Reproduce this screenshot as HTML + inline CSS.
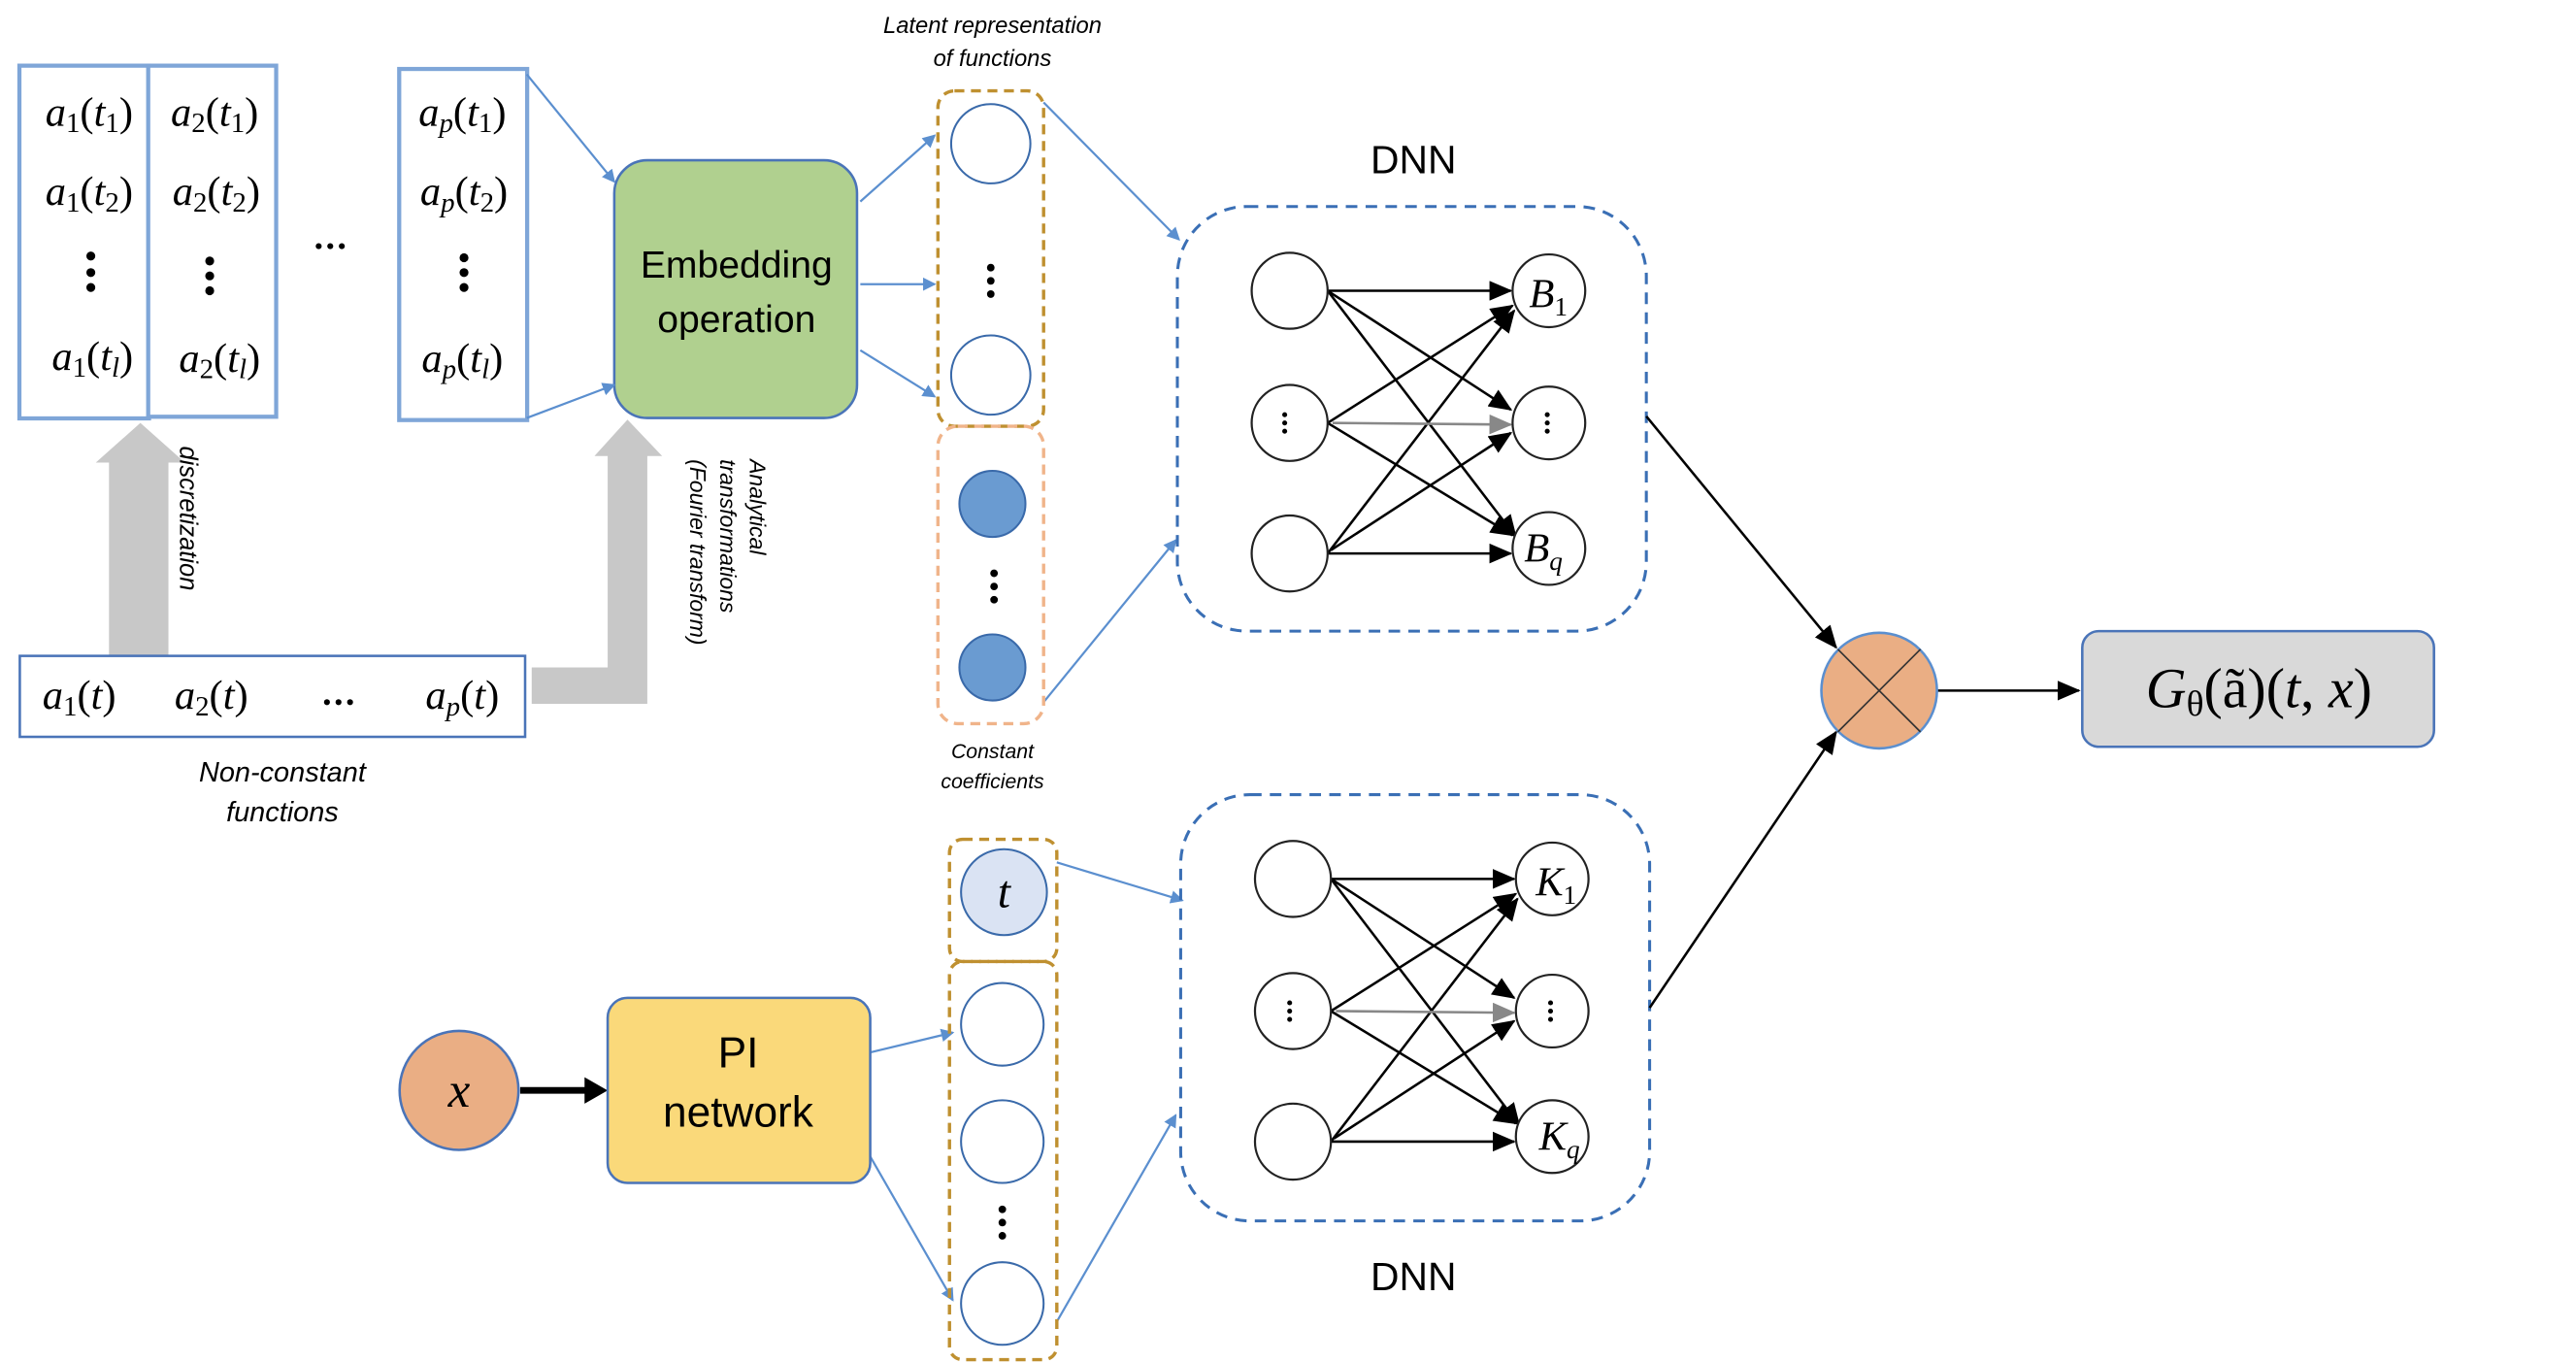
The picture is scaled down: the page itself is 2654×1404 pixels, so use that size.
<!DOCTYPE html>
<html><head><meta charset="utf-8"><style>html,body{margin:0;padding:0;background:#fff}svg{display:block}</style></head>
<body>
<svg width="2654" height="1404" viewBox="0 0 1560 825" preserveAspectRatio="none" xmlns="http://www.w3.org/2000/svg" font-family="Liberation Sans, sans-serif">
<defs>
<marker id="ab" markerWidth="8" markerHeight="8" refX="7" refY="4" orient="auto" markerUnits="userSpaceOnUse"><path d="M0,0 L8,4 L0,8z" fill="#5b8fcf"/></marker>
<marker id="ak" markerWidth="14" markerHeight="12" refX="13" refY="6" orient="auto" markerUnits="userSpaceOnUse"><path d="M0,0 L14,6 L0,12z" fill="#000"/></marker>
<marker id="ag" markerWidth="14" markerHeight="12" refX="13" refY="6" orient="auto" markerUnits="userSpaceOnUse"><path d="M0,0 L14,6 L0,12z" fill="#888"/></marker>
</defs>
<!-- gray arrows -->
<path d="M66,397 L66,280 L58,280 L85,256 L112,280 L102,280 L102,397 Z" fill="#c8c8c8"/>
<path d="M322,404 L368,404 L368,276 L360,276 L380,254 L401,276 L392,276 L392,426 L322,426 Z" fill="#c8c8c8"/>
<g font-family="Liberation Serif, serif" font-style="italic" font-size="25" text-anchor="middle" fill="#000">
<rect x="12" y="40" width="78" height="213" fill="none" stroke="#7fa6d8" stroke-width="3"/><rect x="13.5" y="41.5" width="75" height="210" fill="none" stroke="#fff" stroke-width="1"/>
<rect x="90" y="40" width="77" height="212" fill="none" stroke="#7fa6d8" stroke-width="3"/><rect x="91.5" y="41.5" width="74" height="209" fill="none" stroke="#fff" stroke-width="1"/>
<rect x="242" y="42" width="77" height="212" fill="none" stroke="#7fa6d8" stroke-width="3"/><rect x="243.5" y="43.5" width="74" height="209" fill="none" stroke="#fff" stroke-width="1"/>
<text x="54" y="76">a<tspan font-style="normal" font-size="17" dy="4">1</tspan><tspan dy="-4" font-style="normal">(</tspan>t<tspan font-style="normal" font-size="17" dy="4">1</tspan><tspan dy="-4" font-style="normal">)</tspan></text>
<text x="54" y="124">a<tspan font-style="normal" font-size="17" dy="4">1</tspan><tspan dy="-4" font-style="normal">(</tspan>t<tspan font-style="normal" font-size="17" dy="4">2</tspan><tspan dy="-4" font-style="normal">)</tspan></text>
<text x="56" y="224">a<tspan font-style="normal" font-size="17" dy="4">1</tspan><tspan dy="-4" font-style="normal">(</tspan>t<tspan font-size="17" dy="4">l</tspan><tspan dy="-4" font-style="normal">)</tspan></text>
<text x="130" y="76">a<tspan font-style="normal" font-size="17" dy="4">2</tspan><tspan dy="-4" font-style="normal">(</tspan>t<tspan font-style="normal" font-size="17" dy="4">1</tspan><tspan dy="-4" font-style="normal">)</tspan></text>
<text x="131" y="124">a<tspan font-style="normal" font-size="17" dy="4">2</tspan><tspan dy="-4" font-style="normal">(</tspan>t<tspan font-style="normal" font-size="17" dy="4">2</tspan><tspan dy="-4" font-style="normal">)</tspan></text>
<text x="133" y="225">a<tspan font-style="normal" font-size="17" dy="4">2</tspan><tspan dy="-4" font-style="normal">(</tspan>t<tspan font-size="17" dy="4">l</tspan><tspan dy="-4" font-style="normal">)</tspan></text>
<text x="280" y="76">a<tspan font-size="17" dy="4">p</tspan><tspan dy="-4" font-style="normal">(</tspan>t<tspan font-style="normal" font-size="17" dy="4">1</tspan><tspan dy="-4" font-style="normal">)</tspan></text>
<text x="281" y="124">a<tspan font-size="17" dy="4">p</tspan><tspan dy="-4" font-style="normal">(</tspan>t<tspan font-style="normal" font-size="17" dy="4">2</tspan><tspan dy="-4" font-style="normal">)</tspan></text>
<text x="280" y="225">a<tspan font-size="17" dy="4">p</tspan><tspan dy="-4" font-style="normal">(</tspan>t<tspan font-size="17" dy="4">l</tspan><tspan dy="-4" font-style="normal">)</tspan></text>
</g>
<g fill="#000">
<circle cx="55" cy="155" r="2.7"/><circle cx="55" cy="165" r="2.7"/><circle cx="55" cy="174" r="2.7"/>
<circle cx="127" cy="158" r="2.7"/><circle cx="127" cy="167" r="2.7"/><circle cx="127" cy="176" r="2.7"/>
<circle cx="281" cy="156" r="2.7"/><circle cx="281" cy="165" r="2.7"/><circle cx="281" cy="174" r="2.7"/>
<circle cx="193" cy="149" r="1.8"/><circle cx="200" cy="149" r="1.8"/><circle cx="207" cy="149" r="1.8"/>
</g>
<text transform="translate(109,270) rotate(90)" font-size="15" font-style="italic">discretization</text>
<g font-size="13.5" font-style="italic"><text transform="translate(454,278) rotate(90)">Analytical</text><text transform="translate(436,278) rotate(90)">transformations</text><text transform="translate(418,278) rotate(90)">(Fourier transform)</text></g>
<rect x="12" y="397" width="306" height="49" fill="#fff" stroke="#4a74b8" stroke-width="1.5"/>
<g font-family="Liberation Serif, serif" font-style="italic" font-size="25" text-anchor="middle">
<text x="48" y="429">a<tspan font-style="normal" font-size="17" dy="4">1</tspan><tspan dy="-4" font-style="normal">(</tspan>t<tspan font-style="normal">)</tspan></text>
<text x="128" y="429">a<tspan font-style="normal" font-size="17" dy="4">2</tspan><tspan dy="-4" font-style="normal">(</tspan>t<tspan font-style="normal">)</tspan></text>
<text x="280" y="429">a<tspan font-size="17" dy="4">p</tspan><tspan dy="-4" font-style="normal">(</tspan>t<tspan font-style="normal">)</tspan></text>
</g>
<g fill="#000"><circle cx="198" cy="425" r="1.8"/><circle cx="205" cy="425" r="1.8"/><circle cx="212" cy="425" r="1.8"/></g>
<g font-size="17" font-style="italic" text-anchor="middle"><text x="171" y="473">Non-constant</text><text x="171" y="497">functions</text></g>
<rect x="372" y="97" width="147" height="156" rx="20" fill="#b0d08f" stroke="#4a74b8" stroke-width="1.5"/>
<g font-size="23" text-anchor="middle"><text x="446" y="168">Embedding</text><text x="446" y="201">operation</text></g>
<g stroke="#5b8fcf" stroke-width="1.3" fill="none" marker-end="url(#ab)">
<line x1="319" y1="45" x2="372" y2="110"/><line x1="319" y1="253" x2="372" y2="233"/>
<line x1="521" y1="122" x2="566" y2="82"/><line x1="521" y1="172" x2="566" y2="172"/><line x1="521" y1="212" x2="566" y2="240"/>
<line x1="632" y1="62" x2="714" y2="145"/><line x1="632" y1="425" x2="712" y2="327"/>
<line x1="640" y1="522" x2="716" y2="545"/><line x1="640" y1="800" x2="712" y2="675"/>
<line x1="527" y1="637" x2="577" y2="625"/><line x1="527" y1="700" x2="577" y2="787"/>
</g>
<g font-size="14" font-style="italic" text-anchor="middle"><text x="601" y="20">Latent representation</text><text x="601" y="40">of functions</text></g>
<rect x="568" y="55" width="64" height="203" rx="10" fill="none" stroke="#bf9030" stroke-width="2" stroke-dasharray="6,4"/>
<circle cx="600" cy="87" r="24" fill="#fff" stroke="#3a6aaa" stroke-width="1.2"/>
<circle cx="600" cy="227" r="24" fill="#fff" stroke="#3a6aaa" stroke-width="1.2"/>
<g fill="#000"><circle cx="600" cy="162" r="2.3"/><circle cx="600" cy="170" r="2.3"/><circle cx="600" cy="178" r="2.3"/>
<circle cx="602" cy="347" r="2.3"/><circle cx="602" cy="355" r="2.3"/><circle cx="602" cy="363" r="2.3"/>
<circle cx="607" cy="732" r="2.3"/><circle cx="607" cy="740" r="2.3"/><circle cx="607" cy="748" r="2.3"/></g>
<rect x="568" y="258" width="64" height="180" rx="12" fill="none" stroke="#f0b48a" stroke-width="2" stroke-dasharray="6,4"/>
<circle cx="601" cy="305" r="20" fill="#6a9bd1" stroke="#3a6aaa" stroke-width="1.2"/>
<circle cx="601" cy="404" r="20" fill="#6a9bd1" stroke="#3a6aaa" stroke-width="1.2"/>
<g font-size="12.5" font-style="italic" text-anchor="middle"><text x="601" y="459">Constant</text><text x="601" y="477">coefficients</text></g>
<text x="856" y="105" font-size="24" text-anchor="middle">DNN</text>
<text x="856" y="781" font-size="24" text-anchor="middle">DNN</text>
<rect x="713" y="125" width="284" height="257" rx="42" fill="none" stroke="#3a6fb5" stroke-width="1.8" stroke-dasharray="7,5"/>
<rect x="715" y="481" width="284" height="258" rx="42" fill="none" stroke="#3a6fb5" stroke-width="1.8" stroke-dasharray="7,5"/>
<g stroke="#000" stroke-width="1.5" marker-end="url(#ak)">
<line x1="804" y1="176" x2="915" y2="176"/><line x1="804" y1="176" x2="915" y2="248"/><line x1="804" y1="176" x2="918" y2="325"/>
<line x1="804" y1="256" x2="916" y2="185"/><line x1="804" y1="256" x2="916" y2="324"/>
<line x1="804" y1="335" x2="917" y2="188"/><line x1="806" y1="333" x2="915" y2="262"/><line x1="804" y1="335" x2="915" y2="335"/>
<line x1="806" y1="532" x2="917" y2="532"/><line x1="806" y1="532" x2="917" y2="604"/><line x1="806" y1="532" x2="920" y2="681"/>
<line x1="806" y1="612" x2="918" y2="541"/><line x1="806" y1="612" x2="918" y2="680"/>
<line x1="806" y1="691" x2="919" y2="544"/><line x1="808" y1="689" x2="917" y2="618"/><line x1="806" y1="691" x2="917" y2="691"/>
<line x1="997" y1="252" x2="1112" y2="392"/><line x1="999" y1="610" x2="1112" y2="443"/>
<line x1="1173" y1="418" x2="1259" y2="418"/>
</g>
<g stroke="#888" stroke-width="1.5" marker-end="url(#ag)"><line x1="807" y1="256" x2="915" y2="257"/><line x1="809" y1="612" x2="917" y2="613"/></g>
<g fill="#fff" stroke="#222" stroke-width="1.3">
<circle cx="781" cy="176" r="23"/><circle cx="781" cy="256" r="23"/><circle cx="781" cy="335" r="23"/>
<circle cx="938" cy="176" r="22"/><circle cx="938" cy="256" r="22"/><circle cx="938" cy="332" r="22"/>
<circle cx="783" cy="532" r="23"/><circle cx="783" cy="612" r="23"/><circle cx="783" cy="691" r="23"/>
<circle cx="940" cy="532" r="22"/><circle cx="940" cy="612" r="22"/><circle cx="940" cy="688" r="22"/>
</g>
<g fill="#000"><circle cx="778" cy="251" r="1.5"/><circle cx="778" cy="256" r="1.5"/><circle cx="778" cy="261" r="1.5"/>
<circle cx="937" cy="251" r="1.5"/><circle cx="937" cy="256" r="1.5"/><circle cx="937" cy="261" r="1.5"/>
<circle cx="781" cy="607" r="1.5"/><circle cx="781" cy="612" r="1.5"/><circle cx="781" cy="617" r="1.5"/>
<circle cx="939" cy="607" r="1.5"/><circle cx="939" cy="612" r="1.5"/><circle cx="939" cy="617" r="1.5"/></g>
<g font-family="Liberation Serif, serif" font-style="italic" font-size="25">
<text x="926" y="186">B<tspan font-style="normal" font-size="16" dy="5">1</tspan></text>
<text x="923" y="340">B<tspan font-size="16" dy="5">q</tspan></text>
<text x="930" y="542">K<tspan font-style="normal" font-size="16" dy="5">1</tspan></text>
<text x="932" y="696">K<tspan font-size="16" dy="5">q</tspan></text>
</g>
<circle cx="1138" cy="418" r="35" fill="#eaae84" stroke="#5b8fcf" stroke-width="1.5"/>
<g stroke="#333" stroke-width="1"><line x1="1113" y1="393" x2="1163" y2="443"/><line x1="1163" y1="393" x2="1113" y2="443"/></g>
<rect x="1261" y="382" width="213" height="70" rx="10" fill="#d9d9d9" stroke="#4a74b8" stroke-width="1.5"/>
<text x="1368" y="428" font-family="Liberation Serif, serif" font-style="italic" font-size="34" text-anchor="middle">G<tspan font-style="normal" font-size="22" dy="5">θ</tspan><tspan dy="-5" font-style="normal">(ã)(</tspan>t<tspan font-style="normal">, </tspan>x<tspan font-style="normal">)</tspan></text>
<rect x="575" y="508" width="65" height="74" rx="8" fill="none" stroke="#bf9030" stroke-width="2" stroke-dasharray="6,4"/>
<rect x="575" y="582" width="65" height="241" rx="8" fill="none" stroke="#bf9030" stroke-width="2" stroke-dasharray="6,4"/>
<circle cx="608" cy="540" r="26" fill="#dae3f3" stroke="#3a6aaa" stroke-width="1.2"/>
<text x="608" y="549" font-family="Liberation Serif, serif" font-style="italic" font-size="28" text-anchor="middle">t</text>
<circle cx="607" cy="620" r="25" fill="#fff" stroke="#3a6aaa" stroke-width="1.2"/>
<circle cx="607" cy="691" r="25" fill="#fff" stroke="#3a6aaa" stroke-width="1.2"/>
<circle cx="607" cy="789" r="25" fill="#fff" stroke="#3a6aaa" stroke-width="1.2"/>
<circle cx="278" cy="660" r="36" fill="#eaae84" stroke="#4a74b8" stroke-width="1.5"/>
<text x="278" y="670" font-family="Liberation Serif, serif" font-style="italic" font-size="30" text-anchor="middle">x</text>
<line x1="315" y1="660" x2="356" y2="660" stroke="#000" stroke-width="4"/><path d="M354,652 L368,660 L354,668z" fill="#000"/>
<rect x="368" y="604" width="159" height="112" rx="12" fill="#fad97a" stroke="#4a74b8" stroke-width="1.5"/>
<g font-size="26" text-anchor="middle"><text x="447" y="646">PI</text><text x="447" y="682">network</text></g>
</svg>
</body></html>
